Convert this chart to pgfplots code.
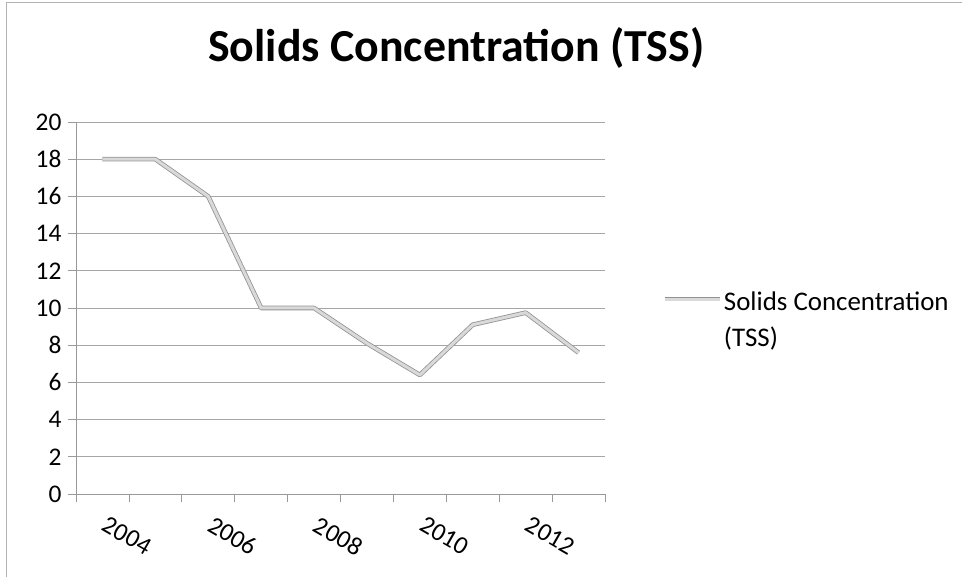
\documentclass[border=0pt]{standalone}
\usepackage{fontspec}
\setmainfont{Carlito}
\usepackage{pgfplots}
\pgfplotsset{compat=1.18}
\begin{document}
\begin{tikzpicture}
\useasboundingbox (-76bp,-83bp) rectangle (886bp,494bp);
\draw[gray!60, line width=1bp] (-69bp,-83bp) -- (-69bp,491bp) -- (886bp,491bp);
\begin{axis}[
  at={(0,0)}, anchor=south west, scale only axis,
  width=529bp, height=372bp,
  xmin=-0.5, xmax=9.5, ymin=0, ymax=20,
  axis lines*=left,
  axis line style={gray!80, line width=0.8bp},
  ytick={0,2,...,20},
  minor ytick={0,2,...,20},
  xtick={0,2,4,6,8},
  xticklabels={2004,2006,2008,2010,2012},
  minor xtick={-0.5,0.5,...,9.5},
  tick align=outside,
  major tick length=0pt,
  minor tick length=8bp,
  tick style={gray!80, line width=0.8bp},
  ymajorgrids, grid style={gray!70, line width=0.8bp},
  /pgf/number format/assume math mode=true,
  tick label style={font=\fontsize{25.5}{30}\selectfont, text=black},
  yticklabel style={xshift=-11bp},
  xticklabel style={rotate=-30, anchor=north west, xshift=13bp, yshift=-12bp},
  title={Solids Concentration (TSS)},
  title style={at={(0.719,1.182)}, anchor=center, font=\bfseries\fontsize{46}{55}\selectfont},
  legend style={at={(1.108,0.524)}, anchor=west, draw=none, fill=none,
    font=\fontsize{27}{36}\selectfont, inner sep=0pt},
  legend cell align=left,
  legend image code/.code={\draw[#1] (0bp,0bp) -- (55bp,0bp);},
]
\addplot[draw=gray!85, double=gray!30, double distance=3bp, line width=0.8bp, line join=round]
  coordinates {(0,18) (1,18) (2,16) (3,10) (4,10) (5,8.1) (6,6.4) (7,9.1) (8,9.75) (9,7.6)};
\addlegendentry{\begin{tabular}[t]{@{}l@{}}Solids Concentration\\(TSS)\end{tabular}}
\end{axis}
\end{tikzpicture}
\end{document}
